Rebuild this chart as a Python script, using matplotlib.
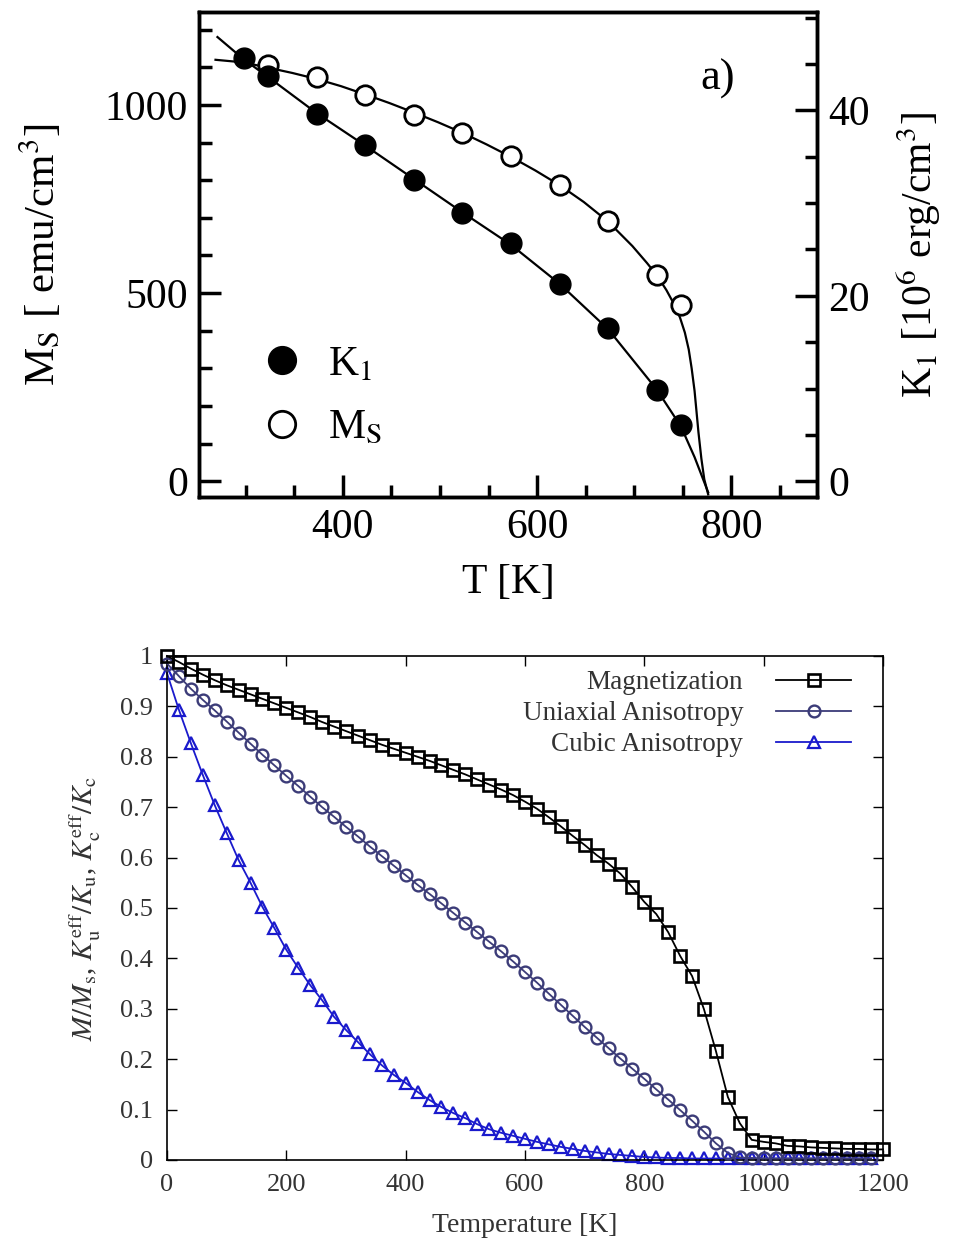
import matplotlib
matplotlib.use("Agg")
import matplotlib.pyplot as plt
from matplotlib.ticker import MultipleLocator, FixedLocator
from matplotlib.lines import Line2D

plt.rcParams['font.family'] = ['Liberation Serif', 'DejaVu Serif']
plt.rcParams['mathtext.fontset'] = 'stix'

# ---------------- top panel data ----------------
T_K1 = [298, 323, 373, 423, 473, 523, 573, 623, 673, 723, 748]
K1 = [45.6, 43.7, 39.6, 36.3, 32.5, 28.9, 25.7, 21.3, 16.5, 9.8, 6.1]
T_Ms = [323, 373, 423, 473, 523, 573, 623, 673, 723, 748]
Ms = [1106, 1074, 1027, 973, 926, 864, 787, 691, 548, 468]

K1_fit_T = [271, 298, 323, 373, 423, 473, 523, 573, 623, 673, 723, 748, 762, 776]
K1_fit = [47.9, 45.5, 43.6, 39.7, 36.2, 32.6, 29.0, 25.5, 21.3, 16.4, 9.9, 5.9, 2.6, -1.2]
Ms_fit_T = [269, 298, 323, 348, 373, 398, 423, 448, 473, 498, 523, 548, 573, 598, 623,
            648, 673, 698, 713, 723, 733, 741, 747, 752, 756, 759, 762, 764, 766, 769, 772, 776]
Ms_fit = [1120, 1113, 1099, 1085, 1069, 1050, 1028, 1005, 980, 954, 926, 895, 862, 826, 787,
          742, 690, 625, 580, 548, 508, 470, 435, 395, 350, 300, 240, 185, 130, 60, 5, -35]

top_xticks = [400, 600, 800]
top_lyticks = [0, 500, 1000]
top_ryticks = [0, 20, 40]

# ---------------- bottom panel data ----------------
T_mag = [0, 20, 40, 60, 80, 100, 120, 140, 160, 180, 200, 220, 240, 260, 280, 300,
         320, 340, 360, 380, 400, 420, 440, 460, 480, 500, 520, 540, 560, 580, 600,
         620, 640, 660, 680, 700, 720, 740, 760, 780, 800, 820, 840, 860, 880, 900,
         920, 940, 960, 980, 1000, 1020, 1040, 1060, 1080, 1100, 1120, 1140, 1160, 1180, 1200]
mag = [1.000, 0.988, 0.975, 0.963, 0.952, 0.942, 0.933, 0.924, 0.915, 0.906, 0.897,
       0.888, 0.879, 0.869, 0.860, 0.851, 0.842, 0.833, 0.824, 0.816, 0.808, 0.800,
       0.792, 0.783, 0.774, 0.765, 0.755, 0.745, 0.735, 0.724, 0.711, 0.697, 0.680,
       0.662, 0.643, 0.625, 0.605, 0.588, 0.568, 0.541, 0.512, 0.488, 0.452, 0.405,
       0.365, 0.299, 0.216, 0.125, 0.073, 0.040, 0.036, 0.033, 0.028, 0.027, 0.025,
       0.024, 0.023, 0.022, 0.022, 0.021, 0.021]

T_ani = [0, 20, 40, 60, 80, 100, 120, 140, 160, 180, 200, 220, 240, 260, 280, 300,
         320, 340, 360, 380, 400, 420, 440, 460, 480, 500, 520, 540, 560, 580, 600,
         620, 640, 660, 680, 700, 720, 740, 760, 780, 800, 820, 840, 860, 880, 900,
         920, 940, 960, 980, 1000, 1020, 1040, 1060, 1080, 1100, 1120, 1140, 1160, 1180]
uni = [0.985, 0.960, 0.935, 0.913, 0.892, 0.870, 0.848, 0.826, 0.804, 0.783, 0.762,
       0.742, 0.721, 0.700, 0.681, 0.661, 0.642, 0.622, 0.603, 0.584, 0.565, 0.546,
       0.528, 0.509, 0.490, 0.471, 0.452, 0.433, 0.414, 0.394, 0.373, 0.352, 0.330,
       0.308, 0.286, 0.264, 0.243, 0.222, 0.201, 0.181, 0.161, 0.140, 0.120, 0.099,
       0.078, 0.056, 0.033, 0.014, 0.005, 0.004, 0.003, 0.003, 0.003, 0.003, 0.003,
       0.003, 0.003, 0.003, 0.003, 0.003]
cub = [0.966, 0.893, 0.827, 0.764, 0.704, 0.649, 0.595, 0.550, 0.502, 0.460, 0.417,
       0.381, 0.347, 0.317, 0.284, 0.258, 0.234, 0.210, 0.188, 0.169, 0.153, 0.135,
       0.119, 0.105, 0.093, 0.083, 0.071, 0.061, 0.054, 0.048, 0.042, 0.036, 0.031,
       0.026, 0.022, 0.018, 0.015, 0.012, 0.010, 0.008, 0.006, 0.005, 0.004, 0.004,
       0.003, 0.003, 0.003, 0.003, 0.003, 0.003, 0.003, 0.003, 0.003, 0.003, 0.003,
       0.003, 0.003, 0.003, 0.003, 0.003]

bot_xticks = [0, 200, 400, 600, 800, 1000, 1200]
bot_yticks = [0, 0.1, 0.2, 0.3, 0.4, 0.5, 0.6, 0.7, 0.8, 0.9, 1]
bot_yticklabels = ['0', '0.1', '0.2', '0.3', '0.4', '0.5', '0.6', '0.7', '0.8', '0.9', '1']

fig = plt.figure(figsize=(9.57, 12.40), dpi=100)

# ================= TOP PANEL =================
ax1 = fig.add_axes([199/957, 1-497/1240, 618/957, 485/1240])
ax2 = ax1.twinx()
ax1.set_xlim(252, 888)
ax1.set_ylim(-42, 1247)
ax2.set_ylim(-1.7, 50.6)

ax1.plot(Ms_fit_T, Ms_fit, color='black', lw=1.6, zorder=2)
ax2.plot(K1_fit_T, K1_fit, color='black', lw=1.6, zorder=2)
ax1.plot(T_Ms, Ms, 'o', ms=14, mfc='white', mec='black', mew=2.0, zorder=3)
ax2.plot(T_K1, K1, 'o', ms=15, mfc='black', mec='black', zorder=3)

fs_top = 30
ax1.xaxis.set_major_locator(FixedLocator(top_xticks))
ax1.xaxis.set_minor_locator(MultipleLocator(50))
ax1.yaxis.set_major_locator(FixedLocator(top_lyticks))
ax1.yaxis.set_minor_locator(MultipleLocator(100))
ax2.yaxis.set_major_locator(FixedLocator(top_ryticks))
ax2.yaxis.set_minor_locator(MultipleLocator(5))
for a in (ax1, ax2):
    a.tick_params(which='major', direction='in', length=16, width=2.5, labelsize=fs_top, pad=8)
    a.tick_params(which='minor', direction='in', length=9, width=2.5)
ax1.tick_params(axis='y', which='both', right=False)
ax1.tick_params(axis='x', which='both', top=False)
ax2.tick_params(axis='x', which='both', top=False, bottom=False)
for a in (ax1, ax2):
    for s in a.spines.values():
        s.set_linewidth(2.5)

ax1.set_xlabel('T [K]', fontsize=fs_top, labelpad=12)
ax1.set_ylabel(r'M$_\mathrm{S}$ [ emu/cm$^{3}$]', fontsize=fs_top + 1, labelpad=30)
ax2.set_ylabel(r'K$_\mathrm{1}$ [10$^{6}$ erg/cm$^{3}$]', fontsize=fs_top, labelpad=18)
ax1.text(0.84, 0.862, 'a)', transform=ax1.transAxes, fontsize=fs_top + 2,
         ha='center', va='center')

h1 = Line2D([], [], ls='none', marker='o', ms=20, mfc='black', mec='black')
h2 = Line2D([], [], ls='none', marker='o', ms=19, mfc='white', mec='black', mew=2.0)
ax2.legend([h1, h2], [r'K$_\mathrm{1}$', r'M$_\mathrm{S}$'], loc='lower left',
           bbox_to_anchor=(0.04, 0.025), frameon=False, fontsize=fs_top,
           handlelength=1.0, handletextpad=0.6, labelspacing=0.6)

# ================= BOTTOM PANEL =================
ax3 = fig.add_axes([167/957, 1-1160/1240, 716/957, 504/1240])
ax3.set_xlim(0, 1200)
ax3.set_ylim(0, 1)
ax3.plot(T_mag, mag, color='black', lw=1.3, marker='s', ms=9, mfc='none',
         mec='black', mew=1.9, label='Magnetization', zorder=4, clip_on=False)
ax3.plot(T_ani, cub, color='#1a1acc', lw=1.3, marker='^', ms=8.5, mfc='none',
         mec='#1a1acc', mew=1.6, label='Cubic Anisotropy', zorder=2, clip_on=False)
ax3.plot(T_ani, uni, color='#3c3c78', lw=1.3, marker='o', ms=8.5, mfc='none',
         mec='#3c3c78', mew=1.7, label='Uniaxial Anisotropy', zorder=3, clip_on=False)

tc = '#333333'
fs_bot = 19
ax3.set_xticks(bot_xticks)
ax3.set_yticks(bot_yticks)
ax3.set_yticklabels(bot_yticklabels)
ax3.tick_params(direction='in', length=7, width=1.0, top=True, right=True,
                labelsize=fs_bot, labelcolor=tc, pad=10)
for s in ax3.spines.values():
    s.set_linewidth(1.2)
ax3.set_xlabel('Temperature [K]', fontsize=20, color=tc, labelpad=12)
ax3.set_ylabel(r'$M/M_\mathrm{s}$, $K_\mathrm{u}^\mathrm{eff}/K_\mathrm{u}$, $K_\mathrm{c}^\mathrm{eff}/K_\mathrm{c}$',
               fontsize=21, color=tc, labelpad=12)

hs, ls = ax3.get_legend_handles_labels()
order = [0, 2, 1]
leg = ax3.legend([hs[i] for i in order], [ls[i] for i in order], loc='upper right',
                 bbox_to_anchor=(0.99, 1.02), frameon=False, fontsize=19.5,
                 markerfirst=False, handlelength=2.8, handletextpad=1.2, labelspacing=0.22)
for t in leg.get_texts():
    t.set_color(tc)

fig.savefig('out.png', dpi=100)
